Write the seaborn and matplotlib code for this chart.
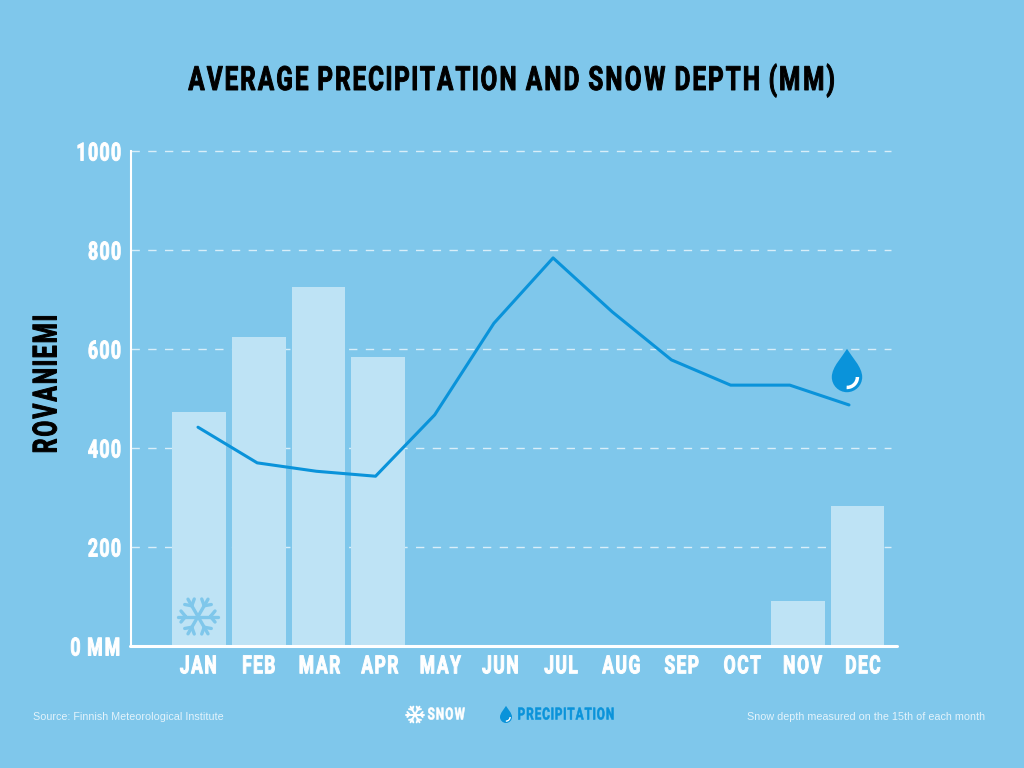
import matplotlib
matplotlib.use("Agg")
import matplotlib.pyplot as plt
import numpy as np
import pandas as pd
import seaborn as sns
from matplotlib.patches import PathPatch, Wedge
from matplotlib.path import Path
from matplotlib.patheffects import AbstractPathEffect
from matplotlib.transforms import Affine2D

months = ["JAN", "FEB", "MAR", "APR", "MAY", "JUN", "JUL", "AUG", "SEP", "OCT", "NOV", "DEC"]
snow_depth = [473, 624, 725, 584, 0, 0, 0, 0, 0, 0, 91, 283]
precipitation = [442, 370, 353, 343, 467, 652, 784, 675, 578, 527, 527, 487]
y_ticks = [0, 200, 400, 600, 800, 1000]
y_labels = ["0 MM", "200", "400", "600", "800", "1000"]

BG = "#7fc7eb"
BAR = "#bee3f5"
BLUE = "#0a93da"
NOTE = "#e3f3fb"


class Squeeze(AbstractPathEffect):
    """No condensed font is installed, so narrow the drawn glyphs instead.

    factor narrows the whole string, glyph narrows each letter a bit more
    about its own centre, which opens up the letter spacing.
    """

    def __init__(self, factor, glyph=0.88, origin=0.5, stroke=0.7):
        super().__init__()
        self.factor, self.glyph, self.origin, self.stroke = factor, glyph, origin, stroke

    def draw_path(self, renderer, gc, tpath, affine, rgbFace=None):
        verts = tpath.vertices.copy()
        codes = tpath.codes
        starts = list(np.where(codes == Path.MOVETO)[0]) + [len(verts)]
        spans = sorted((verts[a:b, 0].min(), verts[a:b, 0].max(), a, b) for a, b in zip(starts[:-1], starts[1:]))

        # contours whose middle falls inside the previous one belong to that letter
        letters = []
        for x0, x1, a, b in spans:
            if letters and (x0 + x1) / 2 < letters[-1]["x1"]:
                letters[-1]["x1"] = max(letters[-1]["x1"], x1)
                letters[-1]["parts"].append((a, b))
            else:
                letters.append({"x0": x0, "x1": x1, "parts": [(a, b)]})
        for letter in letters:
            mid = (letter["x0"] + letter["x1"]) / 2
            for a, b in letter["parts"]:
                verts[a:b, 0] = mid + self.glyph * (verts[a:b, 0] - mid)

        left, right = verts[:, 0].min(), verts[:, 0].max()
        c = left + self.origin * (right - left)
        verts[:, 0] = c + self.factor * (verts[:, 0] - c)

        gc0 = renderer.new_gc()
        gc0.copy_properties(gc)
        gc0.set_foreground(rgbFace)
        gc0.set_linewidth(self.stroke)
        renderer.draw_path(gc0, Path(verts, codes), affine, rgbFace)
        gc0.restore()


sns.set_theme(style="white")
plt.rcParams["font.family"] = ["Roboto", "DejaVu Sans"]

df = pd.DataFrame({"month": months, "snow": snow_depth, "precip": precipitation})

fig = plt.figure(figsize=(10.24, 7.68), dpi=100, facecolor=BG)
ax = fig.add_axes([131 / 1024, 1 - 646 / 768, 760 / 1024, 495 / 768], facecolor=BG)

ax.set_axisbelow(True)
ax.yaxis.grid(True, color="white", alpha=0.7, linewidth=1.0, linestyle=(0, (6, 6.05)), clip_on=False)
ax.xaxis.grid(False)

sns.barplot(data=df, x="month", y="snow", color=BAR, saturation=1, width=0.9, linewidth=0, ax=ax, zorder=2)

ax.set_xlim(-1.13, 11.56)
ax.set_ylim(0, 1000)
ax.set_xlabel("")
ax.set_ylabel("")
ax.set_yticks(y_ticks)
ax.set_yticklabels(y_labels, fontsize=18, fontweight="bold", color="white",
                   path_effects=[Squeeze(0.8, origin=1.0)])
# month labels are spaced a little wider than the bars in the original
ax.set_xticks(np.arange(len(months)) * 1.0085)
ax.set_xticklabels(months)
ax.tick_params(axis="x", length=0, pad=6, labelsize=18, labelcolor="white")
ax.tick_params(axis="y", length=0, pad=6.5)
for lab in ax.get_xticklabels():
    lab.set_fontweight("bold")
    lab.set_path_effects([Squeeze(0.79)])

for side in ["top", "right", "bottom"]:
    ax.spines[side].set_visible(False)
ax.spines["left"].set_color("white")
ax.spines["left"].set_linewidth(1.5)

# the line's months sit slightly tighter than the bars in the original
ax_line = ax.twiny()
sns.lineplot(data=df, x="month", y="precip", color=BLUE, linewidth=2.2, sort=False, ax=ax_line, zorder=3)
ax_line.set_xlim(-1.132, 11.71)
ax_line.set_ylim(0, 1000)
ax_line.axis("off")

# pixel coordinates of the picture, y going down
px = Affine2D().scale(1 / 1024, -1 / 768).translate(0, 1) + fig.transFigure

# axis line runs a bit past the last gridline
fig.add_artist(plt.Line2D([130, 897], [646, 646], color="white", linewidth=2.2, transform=px))


def draw_flake(cx, cy, r, color, lw):
    for a in np.deg2rad(np.arange(0, 360, 60)):
        dx, dy = np.cos(a), np.sin(a)
        fig.add_artist(plt.Line2D([cx, cx + r * dx], [cy, cy + r * dy], color=color, linewidth=lw, transform=px))
        for side in [-1, 1]:
            b = a + side * np.deg2rad(50)
            x0, y0 = cx + 0.62 * r * dx, cy + 0.62 * r * dy
            fig.add_artist(plt.Line2D([x0, x0 + 0.36 * r * np.cos(b)], [y0, y0 + 0.36 * r * np.sin(b)],
                                      color=color, linewidth=lw, transform=px))


def draw_drop(cx, cy, r, color):
    # cy is the centre of the round part
    top = cy - 1.85 * r
    k = 0.5523 * r
    verts = [(cx, top),
             (cx + 0.3 * r, cy - 1.35 * r), (cx + r, cy - 0.65 * r), (cx + r, cy),
             (cx + r, cy + k), (cx + k, cy + r), (cx, cy + r),
             (cx - k, cy + r), (cx - r, cy + k), (cx - r, cy),
             (cx - r, cy - 0.65 * r), (cx - 0.3 * r, cy - 1.35 * r), (cx, top)]
    codes = [Path.MOVETO] + [Path.CURVE4] * 12
    fig.add_artist(PathPatch(Path(verts, codes), facecolor=color, edgecolor="none", transform=px))
    # y is flipped in px, so this sweep is the lower right of the drop
    fig.add_artist(Wedge((cx, cy), 0.8 * r, 0, 92, width=0.23 * r, facecolor="white",
                         edgecolor="none", transform=px))


draw_flake(198, 616.5, 20, BG, 2.4)
draw_drop(847, 377, 15.2, BLUE)
draw_flake(415, 714.5, 9, "white", 1.4)
draw_drop(506, 717, 6, BLUE)

fig.text(511.5 / 1024, 1 - 80.5 / 768, "AVERAGE PRECIPITATION AND SNOW DEPTH (MM)", color="black",
         fontsize=24, fontweight="bold", ha="center", va="center", path_effects=[Squeeze(0.825)])
fig.text(47.5 / 1024, 1 - 384 / 768, "ROVANIEMI", color="black", fontsize=24, fontweight="bold",
         rotation=90, ha="center", va="center", path_effects=[Squeeze(0.78)])
fig.text(427 / 1024, 1 - 715 / 768, "SNOW", color="white", fontsize=12, fontweight="bold", ha="left",
         va="center", path_effects=[Squeeze(0.8, origin=0.0, stroke=0.4)])
fig.text(517 / 1024, 1 - 715 / 768, "PRECIPITATION", color=BLUE, fontsize=12, fontweight="bold", ha="left",
         va="center", path_effects=[Squeeze(0.8, origin=0.0, stroke=0.4)])
fig.text(33 / 1024, 1 - 717 / 768, "Source: Finnish Meteorological Institute", color=NOTE,
         fontsize=7.72, family=["Liberation Sans"], ha="left", va="center")
fig.text(985 / 1024, 1 - 717 / 768, "Snow depth measured on the 15th of each month", color=NOTE,
         fontsize=7.72, family=["Liberation Sans"], ha="right", va="center")

fig.savefig("out.png", dpi=100, facecolor=BG)
